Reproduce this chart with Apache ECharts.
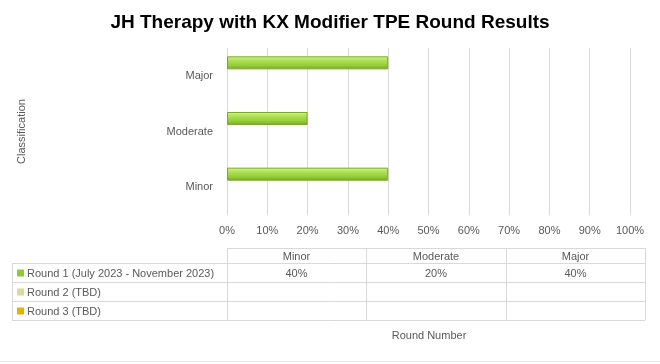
<!DOCTYPE html>
<html><head><meta charset="utf-8">
<script src="https://cdn.jsdelivr.net/npm/echarts@6/dist/echarts.min.js"></script>
<style>html,body{margin:0;padding:0;background:#fff}#c{width:660px;height:364px}</style>
</head><body><div id="c"></div>
<script>
var categories = ['Minor', 'Moderate', 'Major'];
var seriesNames = ['Round 1 (July 2023 - November 2023)', 'Round 2 (TBD)', 'Round 3 (TBD)'];
var round1 = [40, 20, 40];
var round2 = [null, null, null];
var round3 = [null, null, null];
var xTicks = [0, 10, 20, 30, 40, 50, 60, 70, 80, 90, 100];
var seriesColors = ['#8fc93a', '#d9d99a', '#e3b200'];

var chart = echarts.init(document.getElementById('c'));
var font = 'Liberation Sans';
var txt = '#595959';
var lineC = '#d9d9d9';

function greenGrad() {
  return new echarts.graphic.LinearGradient(0, 0, 0, 1, [
    {offset: 0, color: '#d8f59a'},
    {offset: 0.3, color: '#b0e256'},
    {offset: 0.7, color: '#94cc3a'},
    {offset: 1, color: '#76a82a'}
  ]);
}

// table geometry
var tblCols = [227, 366, 506, 645];
var tblRows = [248, 263, 282, 301, 320];
var tblLeft = 12;
var allData = [round1, round2, round3];
var g = [];
g.push({type:'line', shape:{x1:tblCols[0], y1:tblRows[0]+0.5, x2:tblCols[3], y2:tblRows[0]+0.5}, style:{stroke:lineC, lineWidth:1}, silent:true});
for (var r = 1; r < tblRows.length; r++) {
  g.push({type:'line', shape:{x1:tblLeft, y1:tblRows[r]+0.5, x2:tblCols[3], y2:tblRows[r]+0.5}, style:{stroke:lineC, lineWidth:1}, silent:true});
}
g.push({type:'line', shape:{x1:tblLeft+0.5, y1:tblRows[1], x2:tblLeft+0.5, y2:tblRows[4]}, style:{stroke:lineC, lineWidth:1}, silent:true});
for (var c = 0; c < tblCols.length; c++) {
  g.push({type:'line', shape:{x1:tblCols[c]+0.5, y1:tblRows[0], x2:tblCols[c]+0.5, y2:tblRows[4]}, style:{stroke:lineC, lineWidth:1}, silent:true});
}
for (var c = 0; c < categories.length; c++) {
  g.push({type:'text', x:(tblCols[c]+tblCols[c+1])/2, y:(tblRows[0]+tblRows[1])/2+1, style:{text:categories[c], fill:txt, font:'11px ' + font, align:'center', verticalAlign:'middle'}, silent:true});
}
for (var r = 0; r < seriesNames.length; r++) {
  var cy = (tblRows[r+1]+tblRows[r+2])/2 + 1;
  g.push({type:'rect', shape:{x:17, y:cy-4, width:7, height:7}, style:{fill:seriesColors[r]}, silent:true});
  g.push({type:'text', x:27, y:cy, style:{text:seriesNames[r], fill:txt, font:'11px ' + font, align:'left', verticalAlign:'middle'}, silent:true});
  for (var c = 0; c < categories.length; c++) {
    var v = allData[r][c];
    if (v != null) {
      g.push({type:'text', x:(tblCols[c]+tblCols[c+1])/2, y:cy, style:{text:v + '%', fill:txt, font:'11px ' + font, align:'center', verticalAlign:'middle'}, silent:true});
    }
  }
}
g.push({type:'text', x:429, y:336, style:{text:'Round Number', fill:txt, font:'11px ' + font, align:'center', verticalAlign:'middle'}, silent:true});
g.push({type:'line', shape:{x1:0, y1:361.5, x2:660, y2:361.5}, style:{stroke:'#e6e6e6', lineWidth:1}, silent:true});

function barSeries(name, data, color, grad) {
  return {
    name: name, type: 'bar', data: data, barWidth: 13, barGap: '0%',
    itemStyle: {color: grad ? greenGrad() : color, borderColor: '#7aa82c', borderWidth: 1},
    animation: false
  };
}

chart.setOption({
  animation: false,
  title: {text: 'JH Therapy with KX Modifier TPE Round Results', left: 'center', top: 8,
    textStyle: {fontFamily: font, fontWeight: 'bold', fontSize: 19, color: '#000'}},
  grid: {left: 227, right: 30, top: 48, bottom: 149, containLabel: false},
  xAxis: {type: 'value', min: 0, max: 100, interval: 10,
    axisLine: {show: false}, axisTick: {show: false},
    splitLine: {show: true, lineStyle: {color: lineC, width: 1}},
    axisLabel: {formatter: function(v){return v + '%';}, color: txt, fontFamily: font, fontSize: 11, margin: 10}},
  yAxis: {type: 'category', data: categories, name: 'Classification', nameLocation: 'middle', nameGap: 200,
    nameRotate: 90,
    nameTextStyle: {color: txt, fontFamily: font, fontSize: 11},
    axisLine: {show: false}, axisTick: {show: false}, splitLine: {show: false},
    axisLabel: {color: txt, fontFamily: font, fontSize: 11, margin: 14}},
  graphic: g,
  series: [
    barSeries(seriesNames[0], round1, seriesColors[0], true),
    barSeries(seriesNames[1], round2, seriesColors[1], false),
    barSeries(seriesNames[2], round3, seriesColors[2], false)
  ]
});
</script></body></html>
